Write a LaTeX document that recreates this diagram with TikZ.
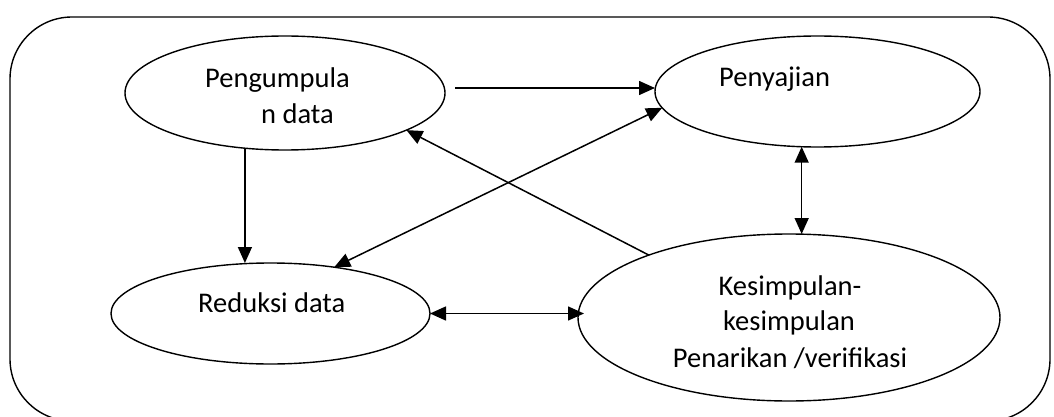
\documentclass[tikz,border=0pt]{standalone}
\usepackage{fontspec}
\setmainfont{Carlito}
\usetikzlibrary{arrows.meta,shapes.geometric,calc}
\tikzset{
  stage/.style={draw, ellipse, line width=1.4pt, inner sep=0pt, outer sep=0pt},
  lbl/.style={inner sep=0pt, font=\fontsize{28.5}{36}\selectfont},
  tip/.tip={Triangle[length=16pt,width=14pt]},
  flow/.style={line width=1.5pt, -tip},
  both/.style={line width=1.5pt, tip-tip}
}
\begin{document}
\begin{tikzpicture}[x=1pt,y=-1pt]
\useasboundingbox (0,0) rectangle (1054,417);
% frame
\draw[line width=1.4pt, rounded corners=62pt] (10,17) rectangle (1050,421);
% stages
\node[stage, minimum width=320pt, minimum height=114pt] (pg) at (285,93) {};
\node[stage, minimum width=325pt, minimum height=111pt] (pen) at (817.5,91.5) {};
\node[stage, minimum width=319pt, minimum height=101pt] (rd) at (270.5,313.5) {};
\node[stage, minimum width=422pt, minimum height=167pt] (ks) at (789,317.5) {};
% labels
\node[lbl, anchor=base west] (pg1) at (205,88) {Pengumpula};
\node[lbl, anchor=base west] (pg2) at (261,124) {n data};
\node[lbl, anchor=base west] (pen1) at (719,87) {Penyajian};
\node[lbl, anchor=base west] (rd1) at (198,312) {Reduksi data};
\node[lbl, anchor=base] (ks1) at (790,295) {Kesimpulan-};
\node[lbl, anchor=base] (ks2) at (789,330) {kesimpulan};
\node[lbl, anchor=base] (ks3) at (790,367) {Penarikan /verifikasi};
% connectors
\coordinate (pgout) at (455,88);
\draw[flow] (pgout) -- (pgout -| pen.west);
\draw[flow] (pg.234.8) -- (pg.234.8 |- rd.north);
\draw[flow] (ks.156.6) -- (pg.-17.1);
\draw[both] (rd.36.6) -- (pen.186.3);
\draw[both] (pen.254.4) -- (pen.254.4 |- ks.north);
\draw[both] (rd.east) -- ($(rd.east -| ks.west)+(6,0)$);
\end{tikzpicture}
\end{document}
